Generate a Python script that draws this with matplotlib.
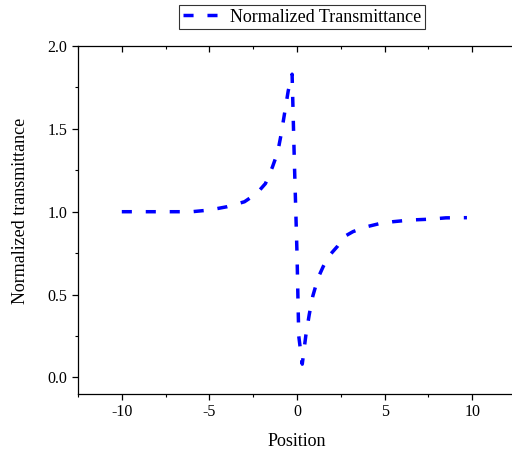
import matplotlib as mpl

mpl.use("Agg")

import matplotlib.pyplot as plt
from matplotlib.ticker import MultipleLocator

mpl.rcParams.update(
    {
        "font.family": ["Liberation Serif", "DejaVu Serif"],
        "axes.unicode_minus": False,
    }
)

# z-scan positions and normalized transmittance
position = [
    -10.0, -9.0, -8.0, -7.0, -6.0, -5.0, -4.0, -3.0, -2.3, -1.8, -1.4, -1.1,
    -0.9, -0.7, -0.5, -0.28, -0.15, 0.0, 0.1, 0.3, 0.5, 0.7, 0.9, 1.2, 1.5,
    1.8, 2.3, 2.7, 3.2, 4.0, 4.7, 5.5, 6.5, 7.6, 8.5, 9.7,
]
transmittance = [
    1.00, 1.00, 1.00, 1.00, 1.00, 1.01, 1.03, 1.06, 1.11, 1.17, 1.27, 1.36,
    1.47, 1.60, 1.73, 1.83, 1.30, 0.75, 0.25, 0.08, 0.25, 0.38, 0.49, 0.60, 0.67,
    0.73, 0.79, 0.85, 0.88, 0.91, 0.928, 0.94, 0.95, 0.955, 0.963, 0.964,
]
series_label = "Normalized Transmittance"

W, H = 512, 455
fig = plt.figure(figsize=(W / 100, H / 100), dpi=100)
ax = fig.add_axes([78 / W, 1 - 394 / H, (516 - 78) / W, (394 - 46) / H])

(line,) = ax.plot(
    position,
    transmittance,
    color="#0000FF",
    lw=2.5,
    linestyle=(0, (2.9, 4.0)),
    label=series_label,
)

ax.set_xlim(-12.5, 12.5)
ax.set_ylim(-0.1, 2.0)
ax.xaxis.set_major_locator(MultipleLocator(5))
ax.xaxis.set_minor_locator(MultipleLocator(2.5))
ax.yaxis.set_major_locator(MultipleLocator(0.5))
ax.yaxis.set_minor_locator(MultipleLocator(0.25))
ax.yaxis.set_major_formatter(mpl.ticker.FormatStrFormatter("%.1f"))

for s in ax.spines.values():
    s.set_linewidth(0.9)

ax.tick_params(axis="both", which="major", direction="out", length=4, width=0.9, labelsize=11.5)
ax.tick_params(axis="both", which="minor", direction="out", length=2.5, width=0.8)
ax.tick_params(axis="x", which="both", top=True)
# bottom ticks point out, top ticks point into the plot
for t in ax.xaxis.get_major_ticks() + ax.xaxis.get_minor_ticks():
    t.tick1line.set_marker(mpl.lines.TICKDOWN)
    t.tick2line.set_marker(mpl.lines.TICKDOWN)

ax.set_xlabel("Position", fontsize=13, labelpad=9)
ax.set_ylabel("Normalized transmittance", fontsize=13)
ax.yaxis.set_label_coords((29 - 78) / 438, (394 - 211) / 348)

leg = fig.legend(
    handles=[line],
    loc="center",
    bbox_to_anchor=(302 / W, 1 - 17 / H),
    fontsize=13,
    frameon=True,
    fancybox=False,
    edgecolor="black",
    handlelength=2.5,
    handletextpad=0.1,
    borderpad=0.2,
    borderaxespad=0,
)
leg.get_frame().set_linewidth(0.8)

fig.savefig("out.png", dpi=100)
